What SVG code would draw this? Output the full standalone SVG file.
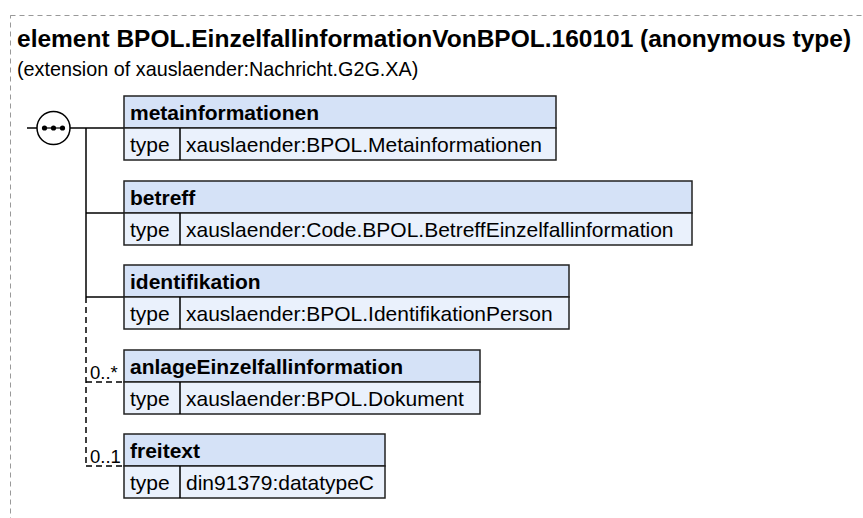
<svg xmlns="http://www.w3.org/2000/svg" width="863" height="518" viewBox="0 0 863 518">
<style>
text{font-family:"Liberation Sans",Arial,sans-serif;fill:#000}
.title{font-size:24.5px;font-weight:bold}
.sub{font-size:19.8px}
.hdr{fill:#d5e2f7;stroke:#222;stroke-width:1.5}
.body{fill:#eaf1fc;stroke:#222;stroke-width:1.5}
.name{font-size:21px;font-weight:bold}
.t{font-size:21px}
.ln{stroke:#000;stroke-width:1.5;fill:none}
.dl{stroke:#000;stroke-width:1.5;fill:none;stroke-dasharray:6,4}
.card{font-size:18.5px}
</style>
<rect x="10.5" y="15.5" width="900" height="600" fill="none" stroke="#999" stroke-dasharray="5,4"/>
<text class="title" x="17" y="47">element BPOL.EinzelfallinformationVonBPOL.160101 (anonymous type)</text>
<text class="sub" x="17" y="76">(extension of xauslaender:Nachricht.G2G.XA)</text>
<g id="connectors">
<line class="ln" x1="27" y1="128" x2="37" y2="128"/>
<line class="ln" x1="70" y1="128" x2="124" y2="128"/>
<line class="ln" x1="86" y1="128" x2="86" y2="297"/>
<line class="ln" x1="86" y1="213" x2="124" y2="213"/>
<line class="ln" x1="86" y1="297" x2="124" y2="297"/>
<line class="dl" x1="86" y1="297" x2="86" y2="466"/>
<line class="dl" x1="86" y1="382" x2="124" y2="382"/>
<line class="dl" x1="86" y1="466" x2="124" y2="466"/>
<text class="card" x="90" y="379">0..*</text>
<text class="card" x="90" y="463">0..1</text>
</g>
<g id="sequence">
<circle cx="53.5" cy="128" r="16.5" fill="#fff" stroke="#000" stroke-width="1.5"/>
<line x1="44" y1="128" x2="63" y2="128" stroke="#000" stroke-width="1.2"/>
<circle cx="44.5" cy="128" r="2.6"/>
<circle cx="53.5" cy="128" r="2.6"/>
<circle cx="62.5" cy="128" r="2.6"/>
</g>
<g id="metainformationen">
<rect class="hdr" x="124" y="96" width="432" height="32"/>
<rect class="body" x="124" y="128" width="432" height="32"/>
<line class="ln" x1="180" y1="128" x2="180" y2="160"/>
<text class="name" x="130" y="120">metainformationen</text>
<text class="t" x="130" y="152">type</text>
<text class="t" x="186" y="152">xauslaender:BPOL.Metainformationen</text>
</g>
<g id="betreff">
<rect class="hdr" x="124" y="181" width="568" height="32"/>
<rect class="body" x="124" y="213" width="568" height="32"/>
<line class="ln" x1="180" y1="213" x2="180" y2="245"/>
<text class="name" x="130" y="205">betreff</text>
<text class="t" x="130" y="237">type</text>
<text class="t" x="186" y="237">xauslaender:Code.BPOL.BetreffEinzelfallinformation</text>
</g>
<g id="identifikation">
<rect class="hdr" x="124" y="265" width="445" height="32"/>
<rect class="body" x="124" y="297" width="445" height="32"/>
<line class="ln" x1="180" y1="297" x2="180" y2="329"/>
<text class="name" x="130" y="289">identifikation</text>
<text class="t" x="130" y="321">type</text>
<text class="t" x="186" y="321">xauslaender:BPOL.IdentifikationPerson</text>
</g>
<g id="anlageEinzelfallinformation">
<rect class="hdr" x="124" y="350" width="356" height="32"/>
<rect class="body" x="124" y="382" width="356" height="32"/>
<line class="ln" x1="180" y1="382" x2="180" y2="414"/>
<text class="name" x="130" y="374">anlageEinzelfallinformation</text>
<text class="t" x="130" y="406">type</text>
<text class="t" x="186" y="406">xauslaender:BPOL.Dokument</text>
</g>
<g id="freitext">
<rect class="hdr" x="124" y="434" width="261" height="32"/>
<rect class="body" x="124" y="466" width="261" height="32"/>
<line class="ln" x1="180" y1="466" x2="180" y2="498"/>
<text class="name" x="130" y="458">freitext</text>
<text class="t" x="130" y="490">type</text>
<text class="t" x="186" y="490">din91379:datatypeC</text>
</g>
</svg>
